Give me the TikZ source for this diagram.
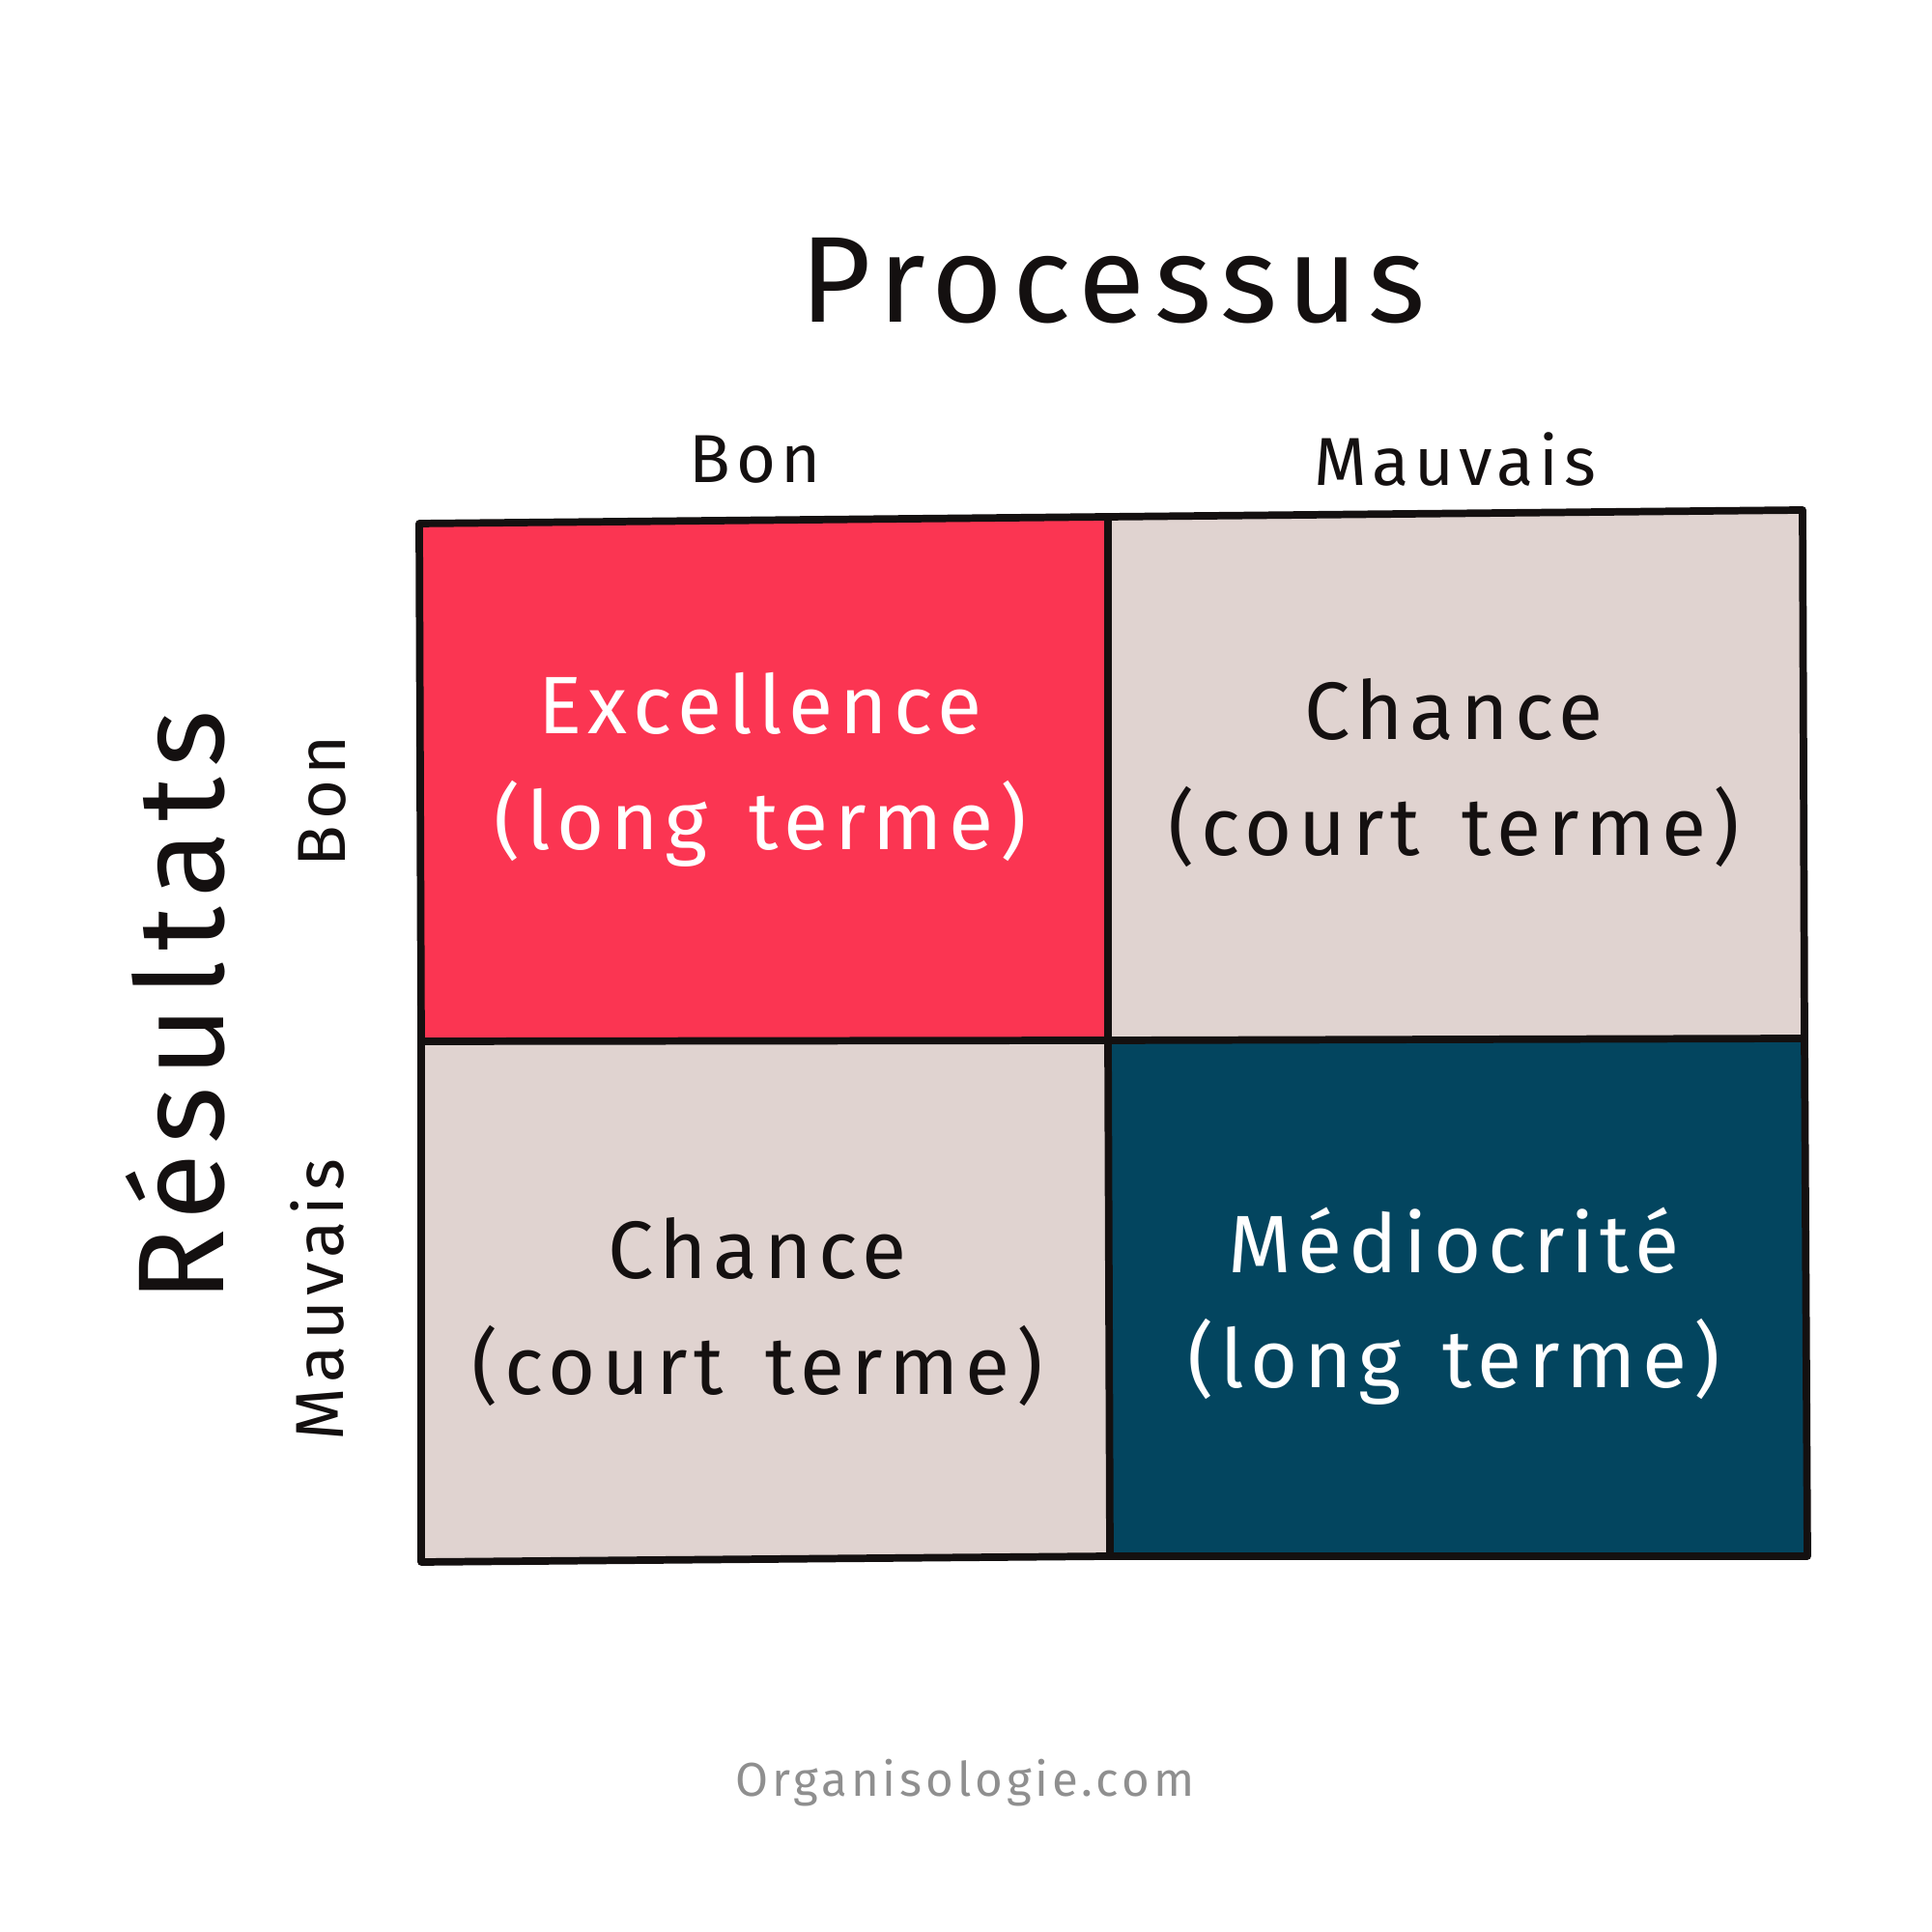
\documentclass[tikz,border=0pt]{standalone}
\usepackage{fontspec}
\setmainfont{Fira Sans}[LetterSpace=8, WordSpace=1.5]
\usepackage{tikz}
\usetikzlibrary{positioning}

\begin{document}
\begin{tikzpicture}[thick, every node/.style={align=center, inner sep=0pt}]
      \definecolor{goodbg}{HTML}{FB3552} \definecolor{luckbg}{HTML}{E0D3D0}
      \definecolor{badbg}{HTML}{03455F} \definecolor{inkc}{HTML}{141010}
      \definecolor{markc}{HTML}{8F8F8F}
      \tikzset{cell/.style={font=\fontsize{24}{34}\selectfont},
        axis/.style={font=\fontsize{20}{24}\selectfont, text=inkc},
        grid/.style={draw=inkc, line width=2.2pt, line join=round, line cap=round}}
      \useasboundingbox (0,0) rectangle (20,20);
      % corners of the matrix
      \coordinate (tl) at (4.34,14.58); \coordinate (tm) at (11.47,14.65); \coordinate (tr) at (18.66,14.72);
      \coordinate (ml) at (4.36,9.22);  \coordinate (mm) at (11.47,9.23);  \coordinate (mr) at (18.68,9.25);
      \coordinate (bl) at (4.36,3.83);  \coordinate (bm) at (11.49,3.89);  \coordinate (br) at (18.71,3.89);
      \fill[goodbg] (tl) -- (tm) -- (mm) -- (ml) -- cycle;
      \fill[luckbg] (tm) -- (tr) -- (mr) -- (mm) -- cycle;
      \fill[luckbg] (ml) -- (mm) -- (bm) -- (bl) -- cycle;
      \fill[badbg] (mm) -- (mr) -- (br) -- (bm) -- cycle;
      \draw[grid] (tl) -- (tm) -- (tr) -- (mr) -- (br) -- (bm) -- (bl) -- (ml) -- cycle;
      \draw[grid] (tm) -- (mm) -- (bm);
      \draw[grid] (ml) -- (mm) -- (mr);
      % cell texts
      \node[cell, text=white] (excel) at (7.87,12.03) {Excellence\\(long terme)};
      \node[cell, text=inkc] (luckR) at (15.05,12.0) {Chance\\(court terme)};
      \node[cell, text=inkc] (luckL) at (7.84,6.42) {Chance\\(court terme)};
      \node[cell, text=white] (medio) at (15.05,6.48) {Médiocrité\\(long terme)};
      % axes
      \node[font=\fontsize{36}{40}\selectfont, text=inkc] (proc) at (11.52,17.09) {Processus};
      \node[axis] (procGood) at (7.82,15.24) {Bon};
      \node[axis] (procBad) at (15.06,15.24) {Mauvais};
      \node[font=\fontsize{36}{40}\selectfont, text=inkc, rotate=90] (resu) at (1.82,9.58) {Résultats};
      \node[axis, rotate=90] (resuGood) at (3.34,11.71) {Bon};
      \node[axis, rotate=90] (resuBad) at (3.29,6.54) {Mauvais};
      \node[font=\fontsize{14}{17}\selectfont, text=markc] (mark) at (9.99,1.54) {Organisologie.com};
    \end{tikzpicture}
\end{document}
